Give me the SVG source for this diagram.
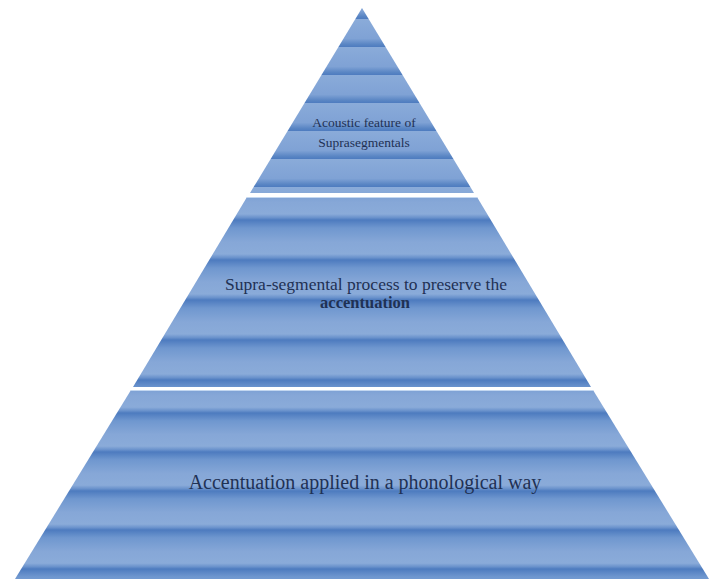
<svg xmlns="http://www.w3.org/2000/svg" width="709" height="579" viewBox="0 0 709 579">
  <style>
    .lbl { font-family: "Liberation Serif", "Times New Roman", serif; fill: #1f3154; text-anchor: middle; }
    .edge { stroke: #c3d7f0; stroke-width: 1.2; }
  </style>
  <defs>
    <linearGradient id="gTop" gradientUnits="userSpaceOnUse" x1="0" y1="19" x2="0" y2="47" spreadMethod="repeat">
      <stop offset="0" stop-color="#8aabd9"/>
      <stop offset="0.7" stop-color="#7fa2d5"/>
      <stop offset="0.9" stop-color="#5a86c4"/>
      <stop offset="1" stop-color="#4d7bbf"/>
    </linearGradient>
    <linearGradient id="gMid" gradientUnits="userSpaceOnUse" x1="0" y1="220" x2="0" y2="260" spreadMethod="repeat">
      <stop offset="0" stop-color="#4d7bbf"/>
      <stop offset="0.2" stop-color="#6f97cf"/>
      <stop offset="0.55" stop-color="#86a7d7"/>
      <stop offset="0.85" stop-color="#8aabd9"/>
      <stop offset="0.94" stop-color="#6a92cc"/>
      <stop offset="1" stop-color="#4d7bbf"/>
    </linearGradient>
    <linearGradient id="gBot" gradientUnits="userSpaceOnUse" x1="0" y1="413" x2="0" y2="452" spreadMethod="repeat">
      <stop offset="0" stop-color="#4d7bbf"/>
      <stop offset="0.2" stop-color="#6f97cf"/>
      <stop offset="0.55" stop-color="#86a7d7"/>
      <stop offset="0.85" stop-color="#8aabd9"/>
      <stop offset="0.94" stop-color="#6a92cc"/>
      <stop offset="1" stop-color="#4d7bbf"/>
    </linearGradient>
  </defs>
  <rect x="0" y="0" width="709" height="579" fill="#ffffff"/>

  <g id="tier-top">
    <polygon points="362,8 474,193 250,193" fill="url(#gTop)"/>
    <text class="lbl" x="364" y="127" font-size="13.5">Acoustic feature of</text>
    <text class="lbl" x="364" y="147" font-size="13.5">Suprasegmentals</text>
  </g>

  <g id="tier-middle">
    <polygon points="247,197 477,197 591,387 133,387" fill="url(#gMid)"/>
    <line class="edge" x1="247" y1="197.5" x2="477" y2="197.5"/>
    <text class="lbl" x="366" y="290" font-size="17.5">Supra-segmental process to preserve the</text>
    <text class="lbl" x="365" y="308" font-size="16.5" font-weight="bold">accentuation</text>
  </g>

  <g id="tier-bottom">
    <polygon points="131,390 593,390 709,579 15,579" fill="url(#gBot)"/>
    <line class="edge" x1="131" y1="390.5" x2="593" y2="390.5"/>
    <text class="lbl" x="365" y="489" font-size="20">Accentuation applied in a phonological way</text>
  </g>

  <g id="connectors"/>
</svg>
